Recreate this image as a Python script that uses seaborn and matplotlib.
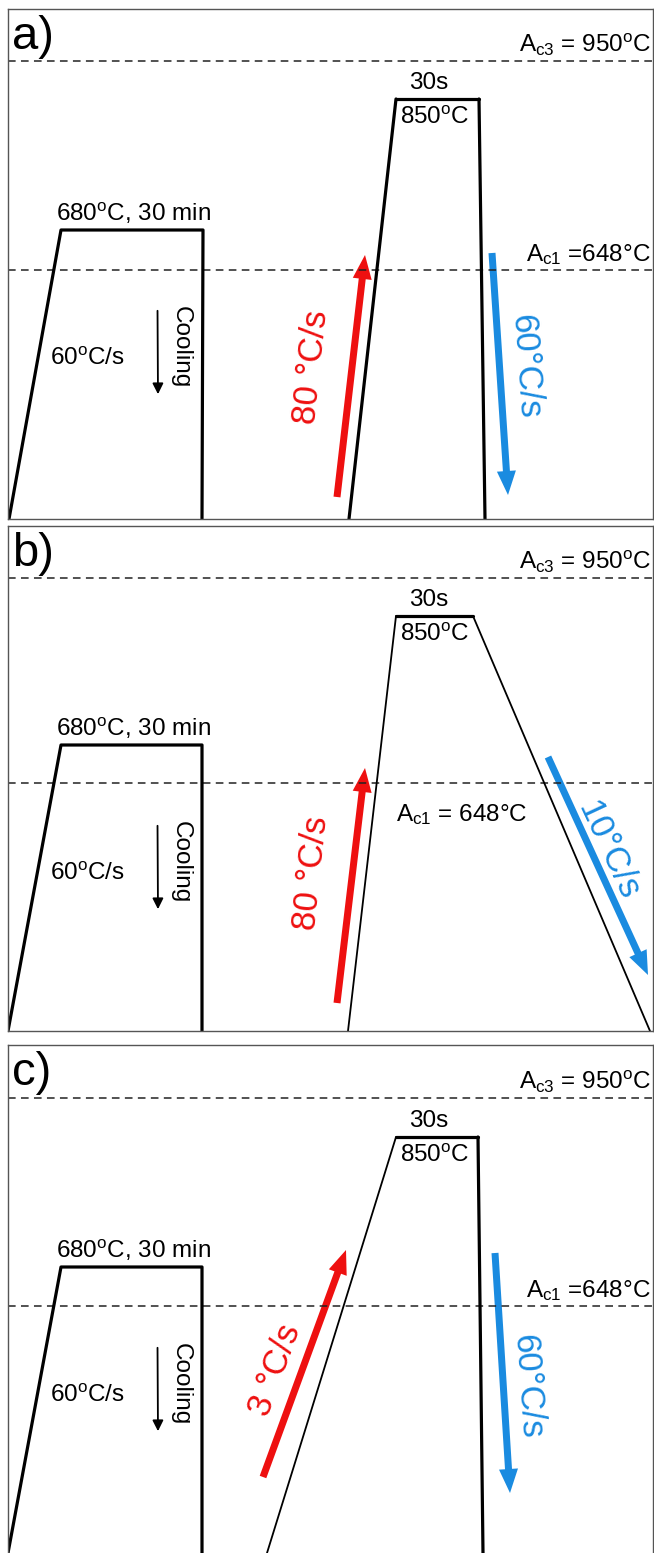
import matplotlib
matplotlib.use("Agg")
import matplotlib.pyplot as plt
import seaborn as sns

# schematic heat-treatment cycles, units ~ pixels of the panel (x = time, y = temperature level)
panel_names = ["a)", "b)", "c)"]
panel_heights = [510, 505, 508]

# tempering step (680 C, 30 min) -- identical idea in all three panels
pre_x = [[1, 53, 195, 194], [0, 53, 194, 194], [0, 53, 194, 194]]
pre_y = [[0, 289, 289, 0], [0, 286, 286, 0], [0, 286, 286, 0]]

# intercritical annealing (850 C, 30 s)
ann_x = [[341, 388, 471, 477], [340, 388, 465, 642], [259, 388, 470, 475]]
ann_y = [[0, 420, 420, 0], [0, 415, 415, 0], [0, 416, 416, 0]]

ac3_level = [458, 453, 455]
ac1_level = [249, 248, 247]

# heating arrow (red) and cooling arrow (blue): x0, y0, x1, y1
heat_arrow = [[329, 22, 357, 264], [329, 28, 357, 263], [255, 76, 338, 303]]
cool_arrow = [[484, 266, 500, 24], [540, 274, 640, 56], [487, 300, 502, 60]]
heat_label = ["80 °C/s", "80 °C/s", "3 °C/s"]
cool_label = ["60°C/s", "10°C/s", "60°C/s"]

ac3_text = r"A$_{\mathrm{c3}}$ = 950$^{\mathrm{o}}$C"
ac1_text = [r"A$_{\mathrm{c1}}$ =648°C", r"A$_{\mathrm{c1}}$ = 648°C", r"A$_{\mathrm{c1}}$ =648°C"]

sns.set_theme(style="white")
plt.rcParams["font.family"] = ["Liberation Sans", "DejaVu Sans"]
plt.rcParams["text.color"] = "black"
plt.rcParams["mathtext.fontset"] = "custom"
plt.rcParams["mathtext.rm"] = "Liberation Sans"
plt.rcParams["mathtext.it"] = "Liberation Sans:italic"

W, H = 654, 1553
fig = plt.figure(figsize=(W / 100, H / 100), dpi=100)

# panel boxes in pixels: top, bottom
boxes = [(9, 519), (526, 1031), (1045, 1553)]

RED = "#ee1010"
BLUE = "#1a8be0"
FS = 17.5

for i in range(3):
    top, bot = boxes[i]
    ax = fig.add_axes([8 / W, (H - bot) / H, 645 / W, (bot - top) / H])
    ax.set_xlim(0, 645)
    ax.set_ylim(0, panel_heights[i])
    ax.set_xticks([])
    ax.set_yticks([])
    for s in ax.spines.values():
        s.set_color("#555555")
        s.set_linewidth(1.0)
    if i == 2:
        ax.spines["bottom"].set_visible(False)

    # critical temperature lines
    ax.axhline(ac3_level[i], color="#222222", lw=1.1, dashes=(5, 3.5))
    ax.axhline(ac1_level[i], color="#222222", lw=1.1, dashes=(5, 3.5))

    # profiles
    sns.lineplot(x=pre_x[i], y=pre_y[i], sort=False, estimator=None, ax=ax,
                 color="black", lw=2.3)
    thin = 1.3 if i > 0 else 2.3
    ax_ = ann_x[i]
    ay_ = ann_y[i]
    sns.lineplot(x=ax_[:2], y=ay_[:2], sort=False, estimator=None, ax=ax, color="black", lw=thin)
    sns.lineplot(x=ax_[1:3], y=ay_[1:3], sort=False, estimator=None, ax=ax, color="black", lw=2.3)
    sns.lineplot(x=ax_[2:], y=ay_[2:], sort=False, estimator=None, ax=ax, color="black",
                 lw=1.3 if i == 1 else 2.3)

    # heating / cooling arrows
    x0, y0, x1, y1 = heat_arrow[i]
    ax.arrow(x0, y0, x1 - x0, y1 - y0, width=7, head_width=19, head_length=24,
             length_includes_head=True, color=RED, lw=0)
    x0, y0, x1, y1 = cool_arrow[i]
    ax.arrow(x0, y0, x1 - x0, y1 - y0, width=7, head_width=19, head_length=24,
             length_includes_head=True, color=BLUE, lw=0)

    # quench arrow after tempering
    ax.annotate("", xy=(150, pre_y[i][1] - 167), xytext=(149.5, pre_y[i][1] - 78),
                arrowprops=dict(arrowstyle="-|>", color="black", lw=1.3,
                                mutation_scale=16))

    # texts
    ax.text(4, panel_heights[i] - 28, panel_names[i], fontsize=34, ha="left", va="center")
    ax.text(643, ac3_level[i] + 3, ac3_text, fontsize=FS, ha="right", va="bottom")
    if i == 1:
        ax.text(388, ac1_level[i] - 32, ac1_text[i], fontsize=FS, ha="left", va="center")
    else:
        ax.text(643, ac1_level[i] + 3, ac1_text[i], fontsize=FS, ha="right", va="bottom")

    ax.text(421, ann_y[i][1] + 16, "30s", fontsize=FS, ha="center", va="center")
    ax.text(427, ann_y[i][1] - 19, r"850$^{\mathrm{o}}$C", fontsize=FS, ha="center", va="center")
    ax.text(125, pre_y[i][1] + 17, r"680$^{\mathrm{o}}$C, 30 min", fontsize=FS,
            ha="center", va="center")
    ax.text(79, pre_y[i][1] - 129, r"60$^{\mathrm{o}}$C/s", fontsize=FS, ha="center", va="center")
    ax.text(173, pre_y[i][1] - 117, "Cooling", fontsize=FS, rotation=-90,
            ha="center", va="center")

    heat_pos = [(304, 152), (304, 158), (267, 183)][i]
    heat_rot = [84, 84, 70][i]
    ax.text(heat_pos[0], heat_pos[1], heat_label[i], color=RED, fontsize=25,
            rotation=heat_rot, rotation_mode="anchor", ha="center", va="center")
    cool_pos = [(517, 152), (600, 181), (519, 166)][i]
    cool_rot = [-86, -65, -86][i]
    ax.text(cool_pos[0], cool_pos[1], cool_label[i], color=BLUE, fontsize=25,
            rotation=cool_rot, rotation_mode="anchor", ha="center", va="center")

fig.savefig("out.png", dpi=100)
